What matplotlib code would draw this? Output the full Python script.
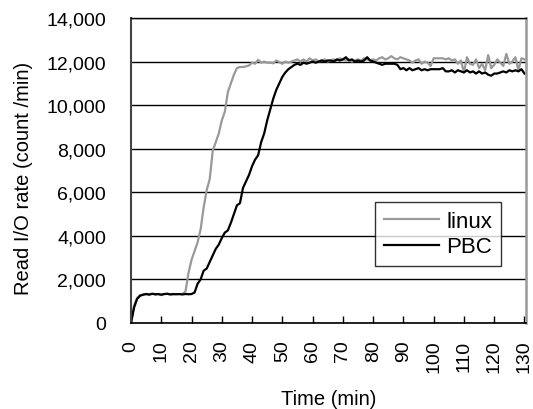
import matplotlib
matplotlib.use("Agg")
import matplotlib.pyplot as plt
from matplotlib.ticker import FuncFormatter

plt.rcParams['font.family'] = ['Liberation Sans', 'DejaVu Sans']

time_min = list(range(0, 131))

linux = [0, 800, 1150, 1280, 1300, 1330, 1280, 1350, 1300, 1320,
         1280, 1330, 1340, 1320, 1310, 1330, 1320, 1330, 1450, 2300,
         2900, 3300, 3700, 4300, 5300, 6100, 6600, 7900, 8300, 8700,
         9300, 9700, 10600, 11000, 11400, 11700, 11750, 11750, 11780, 11820,
         11950, 11900, 12080, 11950, 12000, 11950, 11950, 11920, 12050, 11980,
         11900, 12000, 11950, 12000, 12050, 12100, 12000, 12100, 12000, 12150,
         12050, 12100, 12000, 12050, 12100, 12000, 12050, 12100, 12050, 12150,
         12100, 12050, 12100, 12000, 12050, 12100, 12050, 12150, 12100, 12050,
         12100, 12050, 12150, 12200, 12100, 12150, 12250, 12150, 12100, 12200,
         12150, 12100, 12050, 11950, 12050, 12100, 11900, 12000, 11950, 11800,
         12150, 12150, 12150, 12150, 12100, 12150, 12050, 12100, 11900, 12050,
         11500, 12200, 11900, 11850, 12100, 11700, 11900, 11600, 12300, 11700,
         11850, 12100, 11950, 11800, 12350, 11900, 12000, 12200, 11600, 12150,
         12100]

pbc = [0, 700, 1100, 1250, 1300, 1330, 1310, 1340, 1320, 1330,
       1300, 1330, 1340, 1310, 1330, 1320, 1330, 1310, 1330, 1320,
       1330, 1400, 1800, 2000, 2400, 2500, 2800, 3100, 3400, 3600,
       3900, 4150, 4250, 4600, 5000, 5400, 5500, 6200, 6500, 6800,
       7200, 7500, 7700, 8300, 8700, 9300, 9800, 10300, 10700, 11000,
       11300, 11500, 11650, 11750, 11850, 11900, 11850, 11950, 11900, 11950,
       12000, 11950, 12000, 12050, 12000, 12050, 12050, 12000, 12100, 12050,
       12100, 12200, 12050, 12100, 12000, 12050, 12000, 12050, 12200, 12050,
       12000, 11950, 11900, 11850, 11900, 11900, 11900, 11900, 11850, 11650,
       11700, 11600, 11700, 11600, 11650, 11700, 11600, 11650, 11600, 11650,
       11650, 11650, 11650, 11700, 11550, 11550, 11600, 11500, 11600, 11550,
       11500, 11600, 11500, 11550, 11450, 11550, 11450, 11500, 11400, 11350,
       11450, 11450, 11500, 11550, 11500, 11600, 11550, 11600, 11550, 11650,
       11450]

x_ticks = list(range(0, 131, 10))
y_ticks = list(range(0, 14001, 2000))

W, H = 533, 410
fig = plt.figure(figsize=(W / 100, H / 100), dpi=100)
ax = fig.add_axes([131 / W, 86 / H, (526 - 131) / W, (324 - 19) / H])

ax.plot(time_min, linux, color='#999999', lw=1.6, label='linux')
ax.plot(time_min, pbc, color='black', lw=1.6, label='PBC')

ax.set_xlim(0, 130.5)
ax.set_ylim(0, 14000)
ax.set_xticks(x_ticks)
ax.set_yticks(y_ticks)
ax.yaxis.set_major_formatter(FuncFormatter(lambda v, p: f"{int(v):,}"))
ax.grid(axis='y', color='black', lw=1.0)
ax.set_axisbelow(True)

for lab in ax.get_xticklabels():
    lab.set_rotation(90)
ax.tick_params(axis='x', direction='in', length=5, width=1, labelsize=14, pad=12)
ax.tick_params(axis='y', length=0, labelsize=14, pad=18)

ax.spines['left'].set_color('#444444')
ax.spines['left'].set_linewidth(1.5)
ax.spines['bottom'].set_color('black')
ax.spines['bottom'].set_linewidth(1.2)
ax.spines['top'].set_color('black')
ax.spines['top'].set_linewidth(1.0)
ax.spines['right'].set_color('#999999')
ax.spines['right'].set_linewidth(1.8)

fig.text(329 / W, 1 - 400 / H, 'Time (min)', fontsize=14.5, ha='center', va='center')
fig.text(24 / W, 1 - 178 / H, 'Read I/O rate (count /min)', fontsize=14.5,
         ha='center', va='center', rotation=90)

leg = ax.legend(loc='upper left', bbox_to_anchor=((375 - 131) / 395, (324 - 203) / 305),
                fontsize=16, frameon=True, fancybox=False, handlelength=2.5,
                handletextpad=0.3, borderpad=0.4, labelspacing=0.2,
                borderaxespad=0)
leg.get_frame().set_edgecolor('black')
leg.get_frame().set_linewidth(1.0)

fig.savefig('out.png', dpi=100)
